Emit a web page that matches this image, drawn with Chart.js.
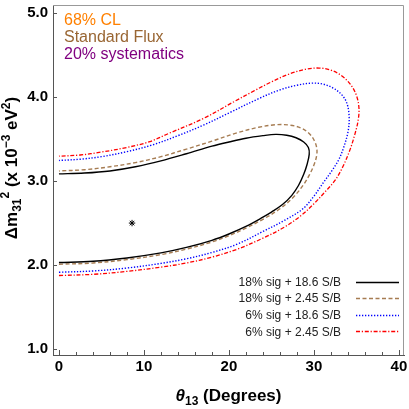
<!DOCTYPE html>
<html>
<head>
<meta charset="utf-8">
<script src="https://cdn.jsdelivr.net/npm/chart.js@4.4.1/dist/chart.umd.min.js"></script>
<style>
  html, body { margin: 0; padding: 0; background: #fff; }
</style>
</head>
<body>
<canvas id="chart" width="409" height="409"></canvas>
<script>
// contour data: theta13 (degrees) vs delta m^2_31 (x 1e-3 eV^2), traced lower branch -> tip -> upper branch
const seriesLabels = ['18% sig + 18.6 S/B', '18% sig + 2.45 S/B', '6% sig + 18.6 S/B', '6% sig + 2.45 S/B'];

const blackTheta = [0, 4, 8, 12, 15, 18, 20, 22, 24, 25, 26.3, 27.4, 28.2, 28.8, 29.2, 29.45, 29.35, 28.8, 27.9, 26.8, 25.5, 24, 22, 20, 18, 15, 12, 9, 6, 3, 0];
const blackDm = [2.03, 2.045, 2.085, 2.145, 2.21, 2.295, 2.37, 2.46, 2.57, 2.63, 2.72, 2.83, 2.95, 3.08, 3.2, 3.32, 3.40, 3.465, 3.515, 3.545, 3.555, 3.54, 3.51, 3.465, 3.415, 3.325, 3.24, 3.17, 3.12, 3.095, 3.085];

const brownTheta = [0, 4, 8, 12, 15, 18, 20, 22, 24, 26, 27.6, 28.8, 29.5, 30.0, 30.3, 30.35, 30.1, 29.5, 28.5, 27.2, 25.5, 23.5, 21, 18, 15, 12, 9, 6, 3, 0];
const brownDm = [2.01, 2.025, 2.065, 2.125, 2.19, 2.275, 2.35, 2.44, 2.545, 2.67, 2.81, 2.96, 3.08, 3.19, 3.29, 3.38, 3.47, 3.56, 3.63, 3.665, 3.67, 3.64, 3.575, 3.475, 3.38, 3.29, 3.22, 3.17, 3.135, 3.12];

const blueTheta = [0, 4, 8, 12, 15, 18, 21, 24, 26.5, 28.7, 30, 31.1, 32.1, 32.9, 33.5, 34.0, 34.15, 33.9, 33.25, 32.2, 31, 29.7, 28, 26, 23.6, 20, 17, 14, 11, 8, 5, 2.5, 0];
const blueDm = [1.915, 1.93, 1.965, 2.02, 2.075, 2.15, 2.25, 2.40, 2.53, 2.67, 2.82, 2.98, 3.12, 3.25, 3.40, 3.58, 3.75, 3.92, 4.03, 4.11, 4.155, 4.165, 4.14, 4.085, 3.985, 3.81, 3.665, 3.54, 3.43, 3.35, 3.29, 3.26, 3.245];

const redTheta = [0, 4, 8, 12, 15, 18, 21, 24, 26.5, 28.5, 30, 31.3, 32.5, 33.4, 34.2, 34.8, 35.2, 35.3, 35.0, 34.3, 33.3, 32.0, 30.6, 29, 27, 25, 22.9, 20.7, 17, 13, 10.7, 8, 5, 2.5, 0];
const redDm = [1.876, 1.89, 1.925, 1.975, 2.025, 2.095, 2.19, 2.32, 2.45, 2.59, 2.73, 2.87, 3.01, 3.17, 3.36, 3.55, 3.72, 3.87, 4.02, 4.15, 4.25, 4.32, 4.345, 4.33, 4.27, 4.18, 4.07, 3.95, 3.745, 3.57, 3.47, 3.40, 3.345, 3.31, 3.296];

// best fit point
const starTheta = [8.6];
const starDm = [2.5];

const xTickValues = [0, 10, 20, 30, 40];
const xMinorValues = [0, 2, 4, 6, 8, 10, 12, 14, 16, 18, 20, 22, 24, 26, 28, 30, 32, 34, 36, 38, 40];
const yTickValues = [1, 2, 3, 4, 5];

const notes = ['68% CL', 'Standard Flux', '20% systematics'];
const noteColors = ['#ff8000', '#996633', '#800080'];

const FONT = "'Liberation Sans', Arial, sans-serif";

function zip(xs, ys) {
  return xs.map((v, i) => ({ x: v, y: ys[i] }));
}

const lineStyles = [
  { color: '#000000', dash: [], width: 1.4 },
  { color: '#a67c52', dash: [4, 2.5], width: 1.4 },
  { color: '#0000ff', dash: [1.3, 1.7], width: 1.4 },
  { color: '#ff0000', dash: [4, 1.8, 1.2, 1.8], width: 1.3 }
];

const contours = [[blackTheta, blackDm], [brownTheta, brownDm], [blueTheta, blueDm], [redTheta, redDm]];

const datasets = contours.map((c, i) => ({
  label: seriesLabels[i],
  data: zip(c[0], c[1]),
  showLine: true,
  borderColor: lineStyles[i].color,
  borderDash: lineStyles[i].dash,
  borderWidth: lineStyles[i].width,
  pointRadius: 0,
  tension: 0.35,
  fill: false
}));

datasets.push({
  label: 'best fit',
  data: zip(starTheta, starDm),
  showLine: false,
  pointStyle: 'star',
  pointRadius: 3.2,
  borderColor: '#000',
  borderWidth: 1
});

function drawRich(ctx, parts, x, y) {
  parts.forEach(p => {
    ctx.font = p.font;
    ctx.fillText(p.t, x, y + (p.dy || 0));
    x += ctx.measureText(p.t).width;
  });
}

function richWidth(ctx, parts) {
  let w = 0;
  parts.forEach(p => { ctx.font = p.font; w += ctx.measureText(p.t).width; });
  return w;
}

const decor = {
  id: 'decor',
  afterDraw(chart) {
    const { ctx, chartArea: a, scales: { x, y } } = chart;
    ctx.save();

    // top and right frame
    ctx.strokeStyle = '#999';
    ctx.lineWidth = 1;
    ctx.beginPath();
    ctx.moveTo(a.left, a.top + 0.5);
    ctx.lineTo(a.right - 0.5, a.top + 0.5);
    ctx.lineTo(a.right - 0.5, a.bottom);
    ctx.stroke();

    // inward ticks
    ctx.strokeStyle = '#555';
    ctx.beginPath();
    xMinorValues.forEach(v => {
      const px = Math.round(x.getPixelForValue(v)) + 0.5;
      const len = v % 10 === 0 ? 5 : 3;
      ctx.moveTo(px, a.bottom);
      ctx.lineTo(px, a.bottom - len);
    });
    yTickValues.forEach(v => {
      const py = Math.round(y.getPixelForValue(v)) + 0.5;
      ctx.moveTo(a.left, py);
      ctx.lineTo(a.left + 4, py);
    });
    ctx.stroke();

    // axis titles
    ctx.fillStyle = '#000';
    ctx.textBaseline = 'alphabetic';
    ctx.textAlign = 'left';
    const big = 'bold 17px ' + FONT;
    const small = 'bold 12px ' + FONT;
    const xt = [
      { t: '\u03b8', font: 'italic bold 17px ' + FONT },
      { t: '13', font: small, dy: 4 },
      { t: ' (Degrees)', font: big }
    ];
    const cx = (a.left + a.right) / 2;
    drawRich(ctx, xt, cx - richWidth(ctx, xt) / 2, 401);

    const yt = [
      { t: '\u0394m', font: big },
      { t: '31', font: small, dy: 4 },
      { t: '2', font: small, dy: -8 },
      { t: ' (x 10', font: big },
      { t: '\u22123', font: small, dy: -7 },
      { t: ' eV', font: big },
      { t: '2', font: small, dy: -7 },
      { t: ')', font: big }
    ];
    ctx.save();
    ctx.translate(17, 168);
    ctx.rotate(-Math.PI / 2);
    drawRich(ctx, yt, -richWidth(ctx, yt) / 2, 0);
    ctx.restore();

    // notes top-left
    ctx.font = '16px ' + FONT;
    ctx.textBaseline = 'middle';
    notes.forEach((t, i) => {
      ctx.fillStyle = noteColors[i];
      ctx.fillText(t, 64, 21 + i * 16.6);
    });

    // legend, text left of line sample
    ctx.font = '12px ' + FONT;
    ctx.textAlign = 'right';
    seriesLabels.forEach((t, i) => {
      const ry = 282.5 + i * 16.6;
      ctx.fillStyle = '#222';
      ctx.fillText(t, 341, ry);
      const st = lineStyles[i];
      ctx.strokeStyle = st.color;
      ctx.lineWidth = st.width;
      ctx.setLineDash(st.dash);
      ctx.beginPath();
      ctx.moveTo(356, Math.round(ry) - 0.5);
      ctx.lineTo(399, Math.round(ry) - 0.5);
      ctx.stroke();
    });
    ctx.setLineDash([]);

    ctx.restore();
  }
};

new Chart(document.getElementById('chart'), {
  type: 'scatter',
  data: { datasets },
  options: {
    responsive: false,
    animation: false,
    layout: { padding: { top: 4, right: 5, left: 0, bottom: 0 } },
    plugins: {
      legend: { display: false },
      tooltip: { enabled: false }
    },
    scales: {
      x: {
        type: 'linear',
        min: -0.7,
        max: 40.6,
        afterBuildTicks: s => { s.ticks = xTickValues.map(v => ({ value: v })); },
        afterFit: s => { s.height = 54; s.paddingLeft = 0; s.paddingRight = 0; },
        grid: { display: false, drawTicks: false },
        border: { color: '#555', width: 1 },
        ticks: {
          padding: 3,
          color: '#000',
          font: { family: FONT, size: 15, weight: 'bold' },
          maxRotation: 0,
          callback: v => String(v)
        }
      },
      y: {
        type: 'linear',
        min: 0.93,
        max: 5.095,
        afterBuildTicks: s => { s.ticks = yTickValues.map(v => ({ value: v })); },
        afterFit: s => { s.width = 53; s.paddingTop = 0; s.paddingBottom = 0; },
        grid: { display: false, drawTicks: false },
        border: { color: '#555', width: 1 },
        ticks: {
          padding: 5,
          color: '#000',
          font: { family: FONT, size: 15, weight: 'bold' },
          callback: v => v.toFixed(1)
        }
      }
    }
  },
  plugins: [decor]
});
</script>
</body>
</html>
